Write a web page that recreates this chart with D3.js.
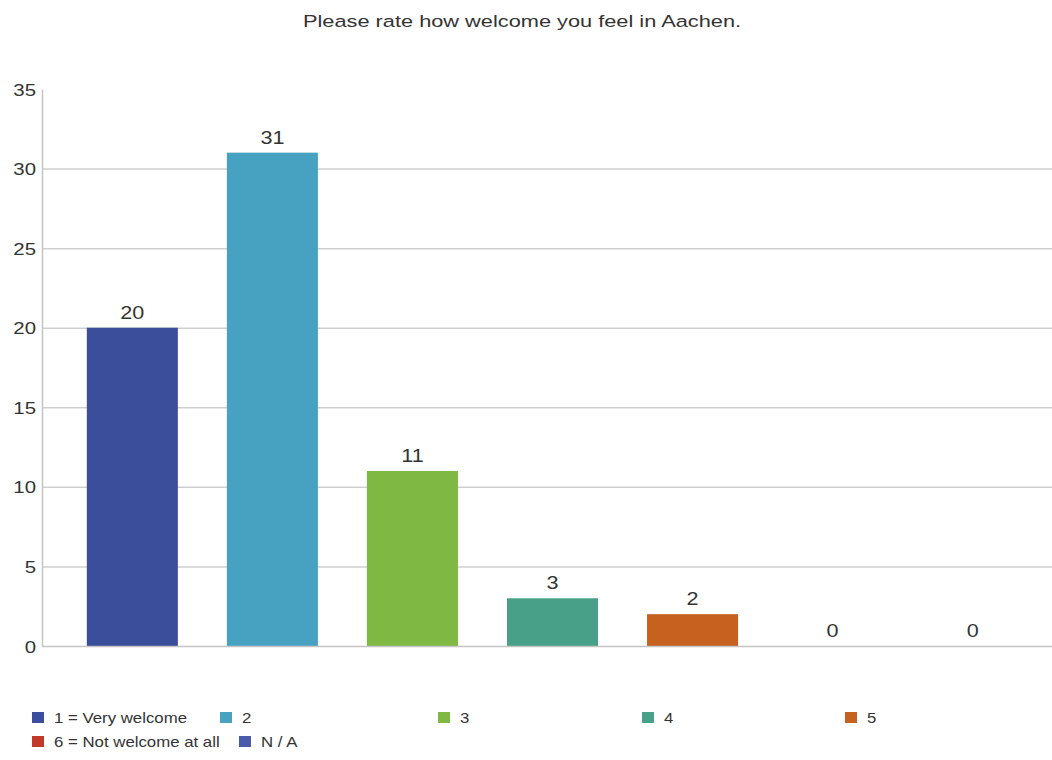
<!DOCTYPE html>
<html>
<head>
<meta charset="utf-8">
<script src="https://cdn.jsdelivr.net/npm/d3@7"></script>
<style>
  body { margin: 0; background: #fff; }
  text { font-family: "Liberation Sans", Arial, sans-serif; }
</style>
</head>
<body>
<div id="chart-area"></div>
<script>
// data
const categories = ["1 = Very welcome", "2", "3", "4", "5", "6 = Not welcome at all", "N / A"]
const counts = [20, 31, 11, 3, 2, 0, 0]
const colors = ["#3b4e9b", "#47a1c1", "#7fb944", "#48a088", "#c6611f", "#c0392b", "#4b5bab"]
const yTicks = [0, 5, 10, 15, 20, 25, 30, 35]
const title = "Please rate how welcome you feel in Aachen."

const W = 1052, H = 760
const PLOT = { LEFT: 42, TOP: 89, BOTTOM: 646 }
// the source picture has slightly wide lettering
const STRETCH = 1.2

const svg = d3.select("#chart-area").append("svg")
  .attr("width", W)
  .attr("height", H)

// scales
const x = d3.scaleBand()
  .domain(categories)
  .range([PLOT.LEFT, PLOT.LEFT + 1021])
  .paddingInner(0.35)
  .paddingOuter(0.32)
const y = d3.scaleLinear().domain([0, 35]).range([PLOT.BOTTOM, PLOT.TOP])

// title
svg.append("text")
  .attr("transform", `translate(522, 27) scale(1.32, 1)`)
  .attr("text-anchor", "middle")
  .attr("font-size", "16.5px")
  .attr("fill", "#333")
  .text(title)

// grid lines
svg.append("g")
  .selectAll("line")
  .data(yTicks.filter(d => d > 0 && d < 35))
  .join("line")
  .attr("x1", PLOT.LEFT)
  .attr("x2", W)
  .attr("y1", d => y(d) + 0.5)
  .attr("y2", d => y(d) + 0.5)
  .attr("stroke", "#cfcfcf")
  .attr("stroke-width", 1.5)

// y axis
const yAxis = svg.append("g")
  .attr("transform", `translate(${PLOT.LEFT}, 0)`)
  .call(d3.axisLeft(y).tickValues(yTicks).tickSize(0).tickPadding(6))
yAxis.select(".domain").attr("stroke", "#c4c4c4").attr("stroke-width", 1.5)
yAxis.selectAll(".tick text")
  .attr("x", null)
  .attr("dy", null)
  .attr("transform", `translate(-6, 6) scale(${STRETCH}, 1)`)
  .attr("font-size", "17px")
  .attr("fill", "#333")
  .attr("font-family", "Liberation Sans, Arial, sans-serif")

// bars
svg.append("g")
  .selectAll("rect")
  .data(counts)
  .join("rect")
  .attr("x", (d, i) => x(categories[i]))
  .attr("y", d => y(d))
  .attr("width", x.bandwidth())
  .attr("height", d => y(0) - y(d))
  .attr("fill", (d, i) => colors[i])

// baseline
svg.append("line")
  .attr("x1", PLOT.LEFT)
  .attr("x2", W)
  .attr("y1", y(0) + 0.5)
  .attr("y2", y(0) + 0.5)
  .attr("stroke", "#c4c4c4")
  .attr("stroke-width", 1.5)

// value labels
svg.append("g")
  .selectAll("text")
  .data(counts)
  .join("text")
  .attr("transform", (d, i) => {
    const cx = x(categories[i]) + x.bandwidth() / 2
    const ty = d > 0 ? y(d) - 9 : y(0) - 9
    return `translate(${cx}, ${ty}) scale(${STRETCH}, 1)`
  })
  .attr("text-anchor", "middle")
  .attr("font-size", "18px")
  .attr("fill", "#333")
  .text(d => d)

// legend
const legendPos = [[32, 718], [220, 718], [438, 718], [642, 718], [845, 718], [32, 742], [239, 742]]
const legend = svg.append("g")
  .selectAll("g")
  .data(categories)
  .join("g")
  .attr("transform", (d, i) => `translate(${legendPos[i][0]}, ${legendPos[i][1]})`)
legend.append("rect")
  .attr("x", 0)
  .attr("y", -6)
  .attr("width", 12)
  .attr("height", 11)
  .attr("fill", (d, i) => colors[i])
legend.append("text")
  .attr("transform", `translate(22, 5) scale(${STRETCH}, 1)`)
  .attr("font-size", "14px")
  .attr("fill", "#333")
  .text(d => d)
</script>
</body>
</html>
